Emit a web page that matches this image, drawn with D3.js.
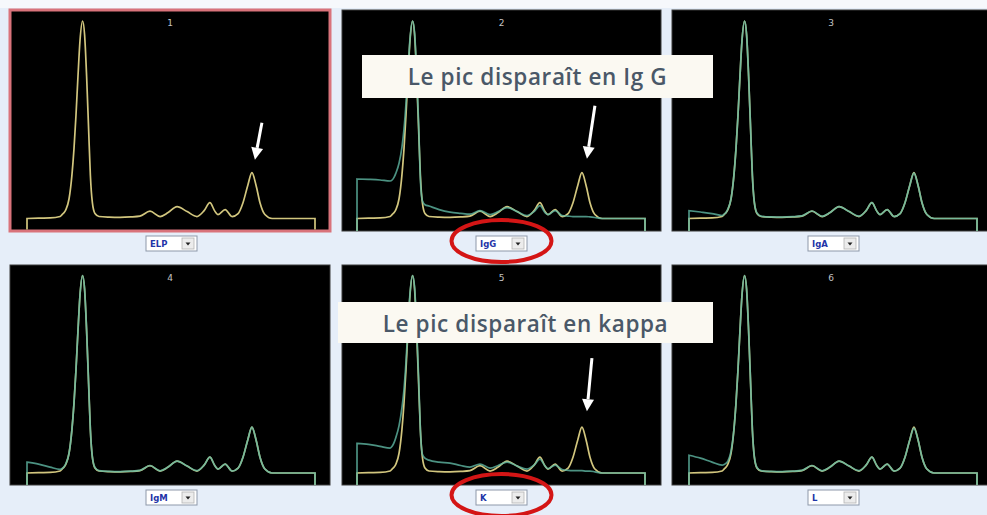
<!DOCTYPE html>
<html>
<head>
<meta charset="utf-8">
<script src="https://cdn.jsdelivr.net/npm/d3@7"></script>
<style>
  html, body { margin: 0; padding: 0; background: #e6eef9; }
  svg { display: block; }
</style>
</head>
<body>
<svg id="chart" width="987" height="515"></svg>
<script>
// Relative mobility across the scan (0 = start of the trace, 100 = end)
const mobility = [0, 4, 8, 11.5, 12.2, 12.9, 13.5, 14.6, 15.6, 16.3,
  17.0, 17.7, 18.4, 19.3, 20.0, 20.7, 21.4, 22.0, 22.7, 23.6,
  25.0, 28.5, 32.3, 36, 39.2, 42.7, 46.2, 49.0, 52.1, 55.6,
  59.0, 61.5, 63.5, 65.3, 66.3, 68.8, 71.2, 73.3, 75.0, 76.7,
  78.1, 79.5, 80.9, 82.6, 85.1, 92, 100];

// Reference electrophoresis trace (ELP), % of the albumin peak
const elp = [0, 0.2, 0.3, 1, 2, 3, 4.5, 10, 22, 35,
  52, 72, 90, 100, 93, 72, 45, 22, 8, 2.5,
  1, 0.7, 0.6, 0.8, 1.2, 3.7, 1, 3, 6, 3.5,
  1, 4, 8, 3.5, 2, 4.5, 1, 2.5, 8, 17,
  23.2, 17, 8, 2, 0, 0, 0];

// Traces after immunosubtraction
const igG = [20, 19.8, 19.5, 19, 19.5, 21, 23, 28, 36, 45,
  58, 75, 91, 100, 94, 74, 48, 20, 9, 7,
  6.3, 4.5, 3.2, 2.6, 2.2, 4, 2, 3.5, 5.5, 3.5,
  1.5, 3.5, 6.5, 3, 2, 4, 1.5, 1.2, 1, 1,
  1, 1, 0.8, 0.5, 0, 0, 0];
const igA = [4, 3.3, 2.5, 1.5, 2.2, 3.2, 4.8, 10, 22, 35,
  52, 72, 90, 100, 93, 72, 45, 22, 8, 2.8,
  1.2, 0.8, 0.7, 0.9, 1.3, 3.8, 1.1, 3, 6, 3.5,
  1.2, 4, 8, 3.5, 2, 4.5, 1, 2.5, 8, 17,
  23, 17, 8, 2, 0, 0, 0];
const igM = [5.5, 4.5, 3, 1.8, 2.3, 3.3, 4.8, 10, 22, 35,
  52, 72, 90, 100, 93, 72, 45, 22, 8, 2.8,
  1.2, 0.8, 0.7, 0.9, 1.3, 3.8, 1.1, 3, 6, 3.5,
  1.2, 4, 8, 3.5, 2, 4.5, 1, 2.5, 8, 17,
  23.2, 17, 8, 2, 0, 0, 0];
const kappa = [15, 14.5, 13.5, 12.6, 13.5, 15.5, 18, 24, 33, 42,
  56, 74, 91, 100, 94, 74, 48, 22, 9.5, 7.5,
  6.5, 5.5, 5, 3.8, 3, 4.5, 2.5, 3.8, 5.5, 3.5,
  2, 4, 7, 3.5, 2.2, 4, 1.8, 1.3, 1.2, 1.2,
  1.2, 1, 1, 0.6, 0, 0, 0];
const lambda = [9, 7.5, 5.5, 4, 4.3, 5, 6, 11, 22, 35,
  52, 72, 90, 100, 93, 72, 45, 22, 8, 2.8,
  1.2, 0.8, 0.7, 0.9, 1.3, 3.8, 1.1, 3, 6, 3.5,
  1.2, 4, 8, 3.5, 2, 4.5, 1, 2.5, 8, 17,
  22.7, 17, 8, 2, 0, 0, 0];

// Selector labels under each panel
const selectorLabels = ["ELP", "IgG", "IgA", "IgM", "K", "L"];
const subtracted = [null, igG, igA, igM, kappa, lambda];

// Callout texts
const callouts = ["Le pic disparaît en Ig G", "Le pic disparaît en kappa"];

// ---- layout ----
const svg = d3.select("#chart");
const colBox = [{x: 10, w: 320}, {x: 342, w: 319}, {x: 672, w: 320}];
const colTrace = [27, 357, 689];
const traceSpan = 288;
const rowBox = [{y: 10, h: 221}, {y: 265, h: 220}];
const rowBase = [218.5, 473];
const peakHeight = 197.5;
const selectorTop = [236, 490];

const C_ELP = "#d2c67e";
const C_SUB = "#5fb6a2";

svg.append("rect").attr("x", 0).attr("y", 0).attr("width", 987).attr("height", 515).attr("fill", "#e6eef9");
svg.append("rect").attr("x", 0).attr("y", 0).attr("width", 987).attr("height", 8).attr("fill", "#f6f8fc");

const panels = selectorLabels.map((label, i) => ({
  index: i,
  number: String(i + 1),
  label,
  col: i % 3,
  row: Math.floor(i / 3),
  series: subtracted[i]
}));

// trace path: vertical rise from the panel floor, smooth curve, vertical drop
function tracePath(values, x, y, floorY) {
  const pts = mobility.map((m, k) => [x(m), y(values[k])]);
  const body = d3.line().curve(d3.curveMonotoneX)(pts);
  return `M${pts[0][0]},${floorY}L` + body.slice(1) + `L${pts[pts.length - 1][0]},${floorY}`;
}

panels.forEach(p => {
  const bx = colBox[p.col], by = rowBox[p.row];
  const g = svg.append("g");
  const clipId = "clip" + p.index;
  svg.append("clipPath").attr("id", clipId)
    .append("rect").attr("x", bx.x).attr("y", by.y).attr("width", bx.w).attr("height", by.h);

  g.append("rect")
    .attr("x", bx.x).attr("y", by.y).attr("width", bx.w).attr("height", by.h)
    .attr("fill", "#000")
    .attr("stroke", p.index === 0 ? "#d9737b" : "#3a3a3a")
    .attr("stroke-width", p.index === 0 ? 3 : 1);

  const x = d3.scaleLinear().domain([0, 100]).range([colTrace[p.col], colTrace[p.col] + traceSpan]);
  const y = d3.scaleLinear().domain([0, 100]).range([rowBase[p.row], rowBase[p.row] - peakHeight]);
  const floorY = by.y + by.h - (p.index === 0 ? 1.5 : 0);

  const plot = g.append("g").attr("clip-path", `url(#${clipId})`);
  plot.append("path")
    .attr("d", tracePath(elp, x, y, floorY))
    .attr("fill", "none").attr("stroke", C_ELP).attr("stroke-width", 1.7);
  if (p.series) {
    plot.append("path")
      .attr("d", tracePath(p.series, x, y, floorY))
      .attr("fill", "none").attr("stroke", C_SUB).attr("stroke-width", 1.7)
      .attr("stroke-opacity", 0.8);
  }

  // panel number
  g.append("text")
    .attr("x", bx.x + bx.w / 2 + (p.col === 2 ? -1 : 0)).attr("y", by.y + 16)
    .attr("text-anchor", "middle")
    .attr("font-family", "DejaVu Sans, sans-serif").attr("font-size", 9)
    .attr("fill", "#c4c4c4").text(p.number);

  // selector box
  const sx = colTrace[p.col] + traceSpan / 2 - 25, sy = selectorTop[p.row];
  const sel = svg.append("g").attr("transform", `translate(${sx},${sy})`);
  sel.append("rect").attr("width", 51).attr("height", 15)
    .attr("fill", "#ffffff").attr("stroke", "#8d98aa").attr("stroke-width", 1);
  sel.append("text").attr("x", 4).attr("y", 11)
    .attr("font-family", "DejaVu Sans, sans-serif").attr("font-size", 8.5).attr("font-weight", "bold")
    .attr("fill", "#1f35a8").text(p.label);
  sel.append("rect").attr("x", 36).attr("y", 2).attr("width", 12).attr("height", 11)
    .attr("fill", "#ececec").attr("stroke", "#b5b5b5").attr("stroke-width", 0.8);
  sel.append("path").attr("d", "M39.5,6.5L44.5,6.5L42,9.5Z").attr("fill", "#222");

  p.x = x; p.y = y; p.sx = sx; p.sy = sy;
});

// white arrows pointing at the monoclonal peak
const arrows = [
  {panel: 0, tip: [3, -13], tail: [10, -50]},
  {panel: 1, tip: [5, -14], tail: [13, -67]},
  {panel: 4, tip: [5, -16], tail: [10, -69]}
];
const peakIndex = elp.indexOf(d3.max(elp.slice(30)));
arrows.forEach(a => {
  const p = panels[a.panel];
  const px = p.x(mobility[peakIndex]), py = p.y(elp[peakIndex]);
  const tx = px + a.tip[0], ty = py + a.tip[1];
  const lx = px + a.tail[0], ly = py + a.tail[1];
  const ang = Math.atan2(ty - ly, tx - lx);
  const headLen = 12, headW = 6;
  const bx = tx - headLen * Math.cos(ang), byy = ty - headLen * Math.sin(ang);
  svg.append("line").attr("x1", lx).attr("y1", ly).attr("x2", bx).attr("y2", byy)
    .attr("stroke", "#ffffff").attr("stroke-width", 3);
  const nx = -Math.sin(ang) * headW, ny = Math.cos(ang) * headW;
  svg.append("path")
    .attr("d", `M${tx},${ty}L${bx + nx},${byy + ny}L${bx - nx},${byy - ny}Z`)
    .attr("fill", "#ffffff");
});

// callout banners
const banners = [
  {text: callouts[0], x: 362, y: 55, w: 351, h: 43, base: 85},
  {text: callouts[1], x: 338, y: 302, w: 375, h: 41, base: 332}
];
banners.forEach(b => {
  svg.append("rect").attr("x", b.x).attr("y", b.y).attr("width", b.w).attr("height", b.h)
    .attr("fill", "#fbf9f2");
  svg.append("text")
    .attr("x", b.x + b.w / 2).attr("y", b.base)
    .attr("text-anchor", "middle")
    .attr("font-family", "Open Sans, sans-serif").attr("font-size", 22.5).attr("font-weight", 600)
    .attr("letter-spacing", 0.6)
    .attr("fill", "#4a5868").text(b.text);
});

// red ellipses around the selectors of panels 2 and 5
[1, 4].forEach(i => {
  const p = panels[i];
  svg.append("ellipse")
    .attr("cx", p.sx + 25.5).attr("cy", p.sy + 5)
    .attr("rx", 50).attr("ry", 21)
    .attr("fill", "none").attr("stroke", "#d41515").attr("stroke-width", 4);
});
</script>
</body>
</html>
